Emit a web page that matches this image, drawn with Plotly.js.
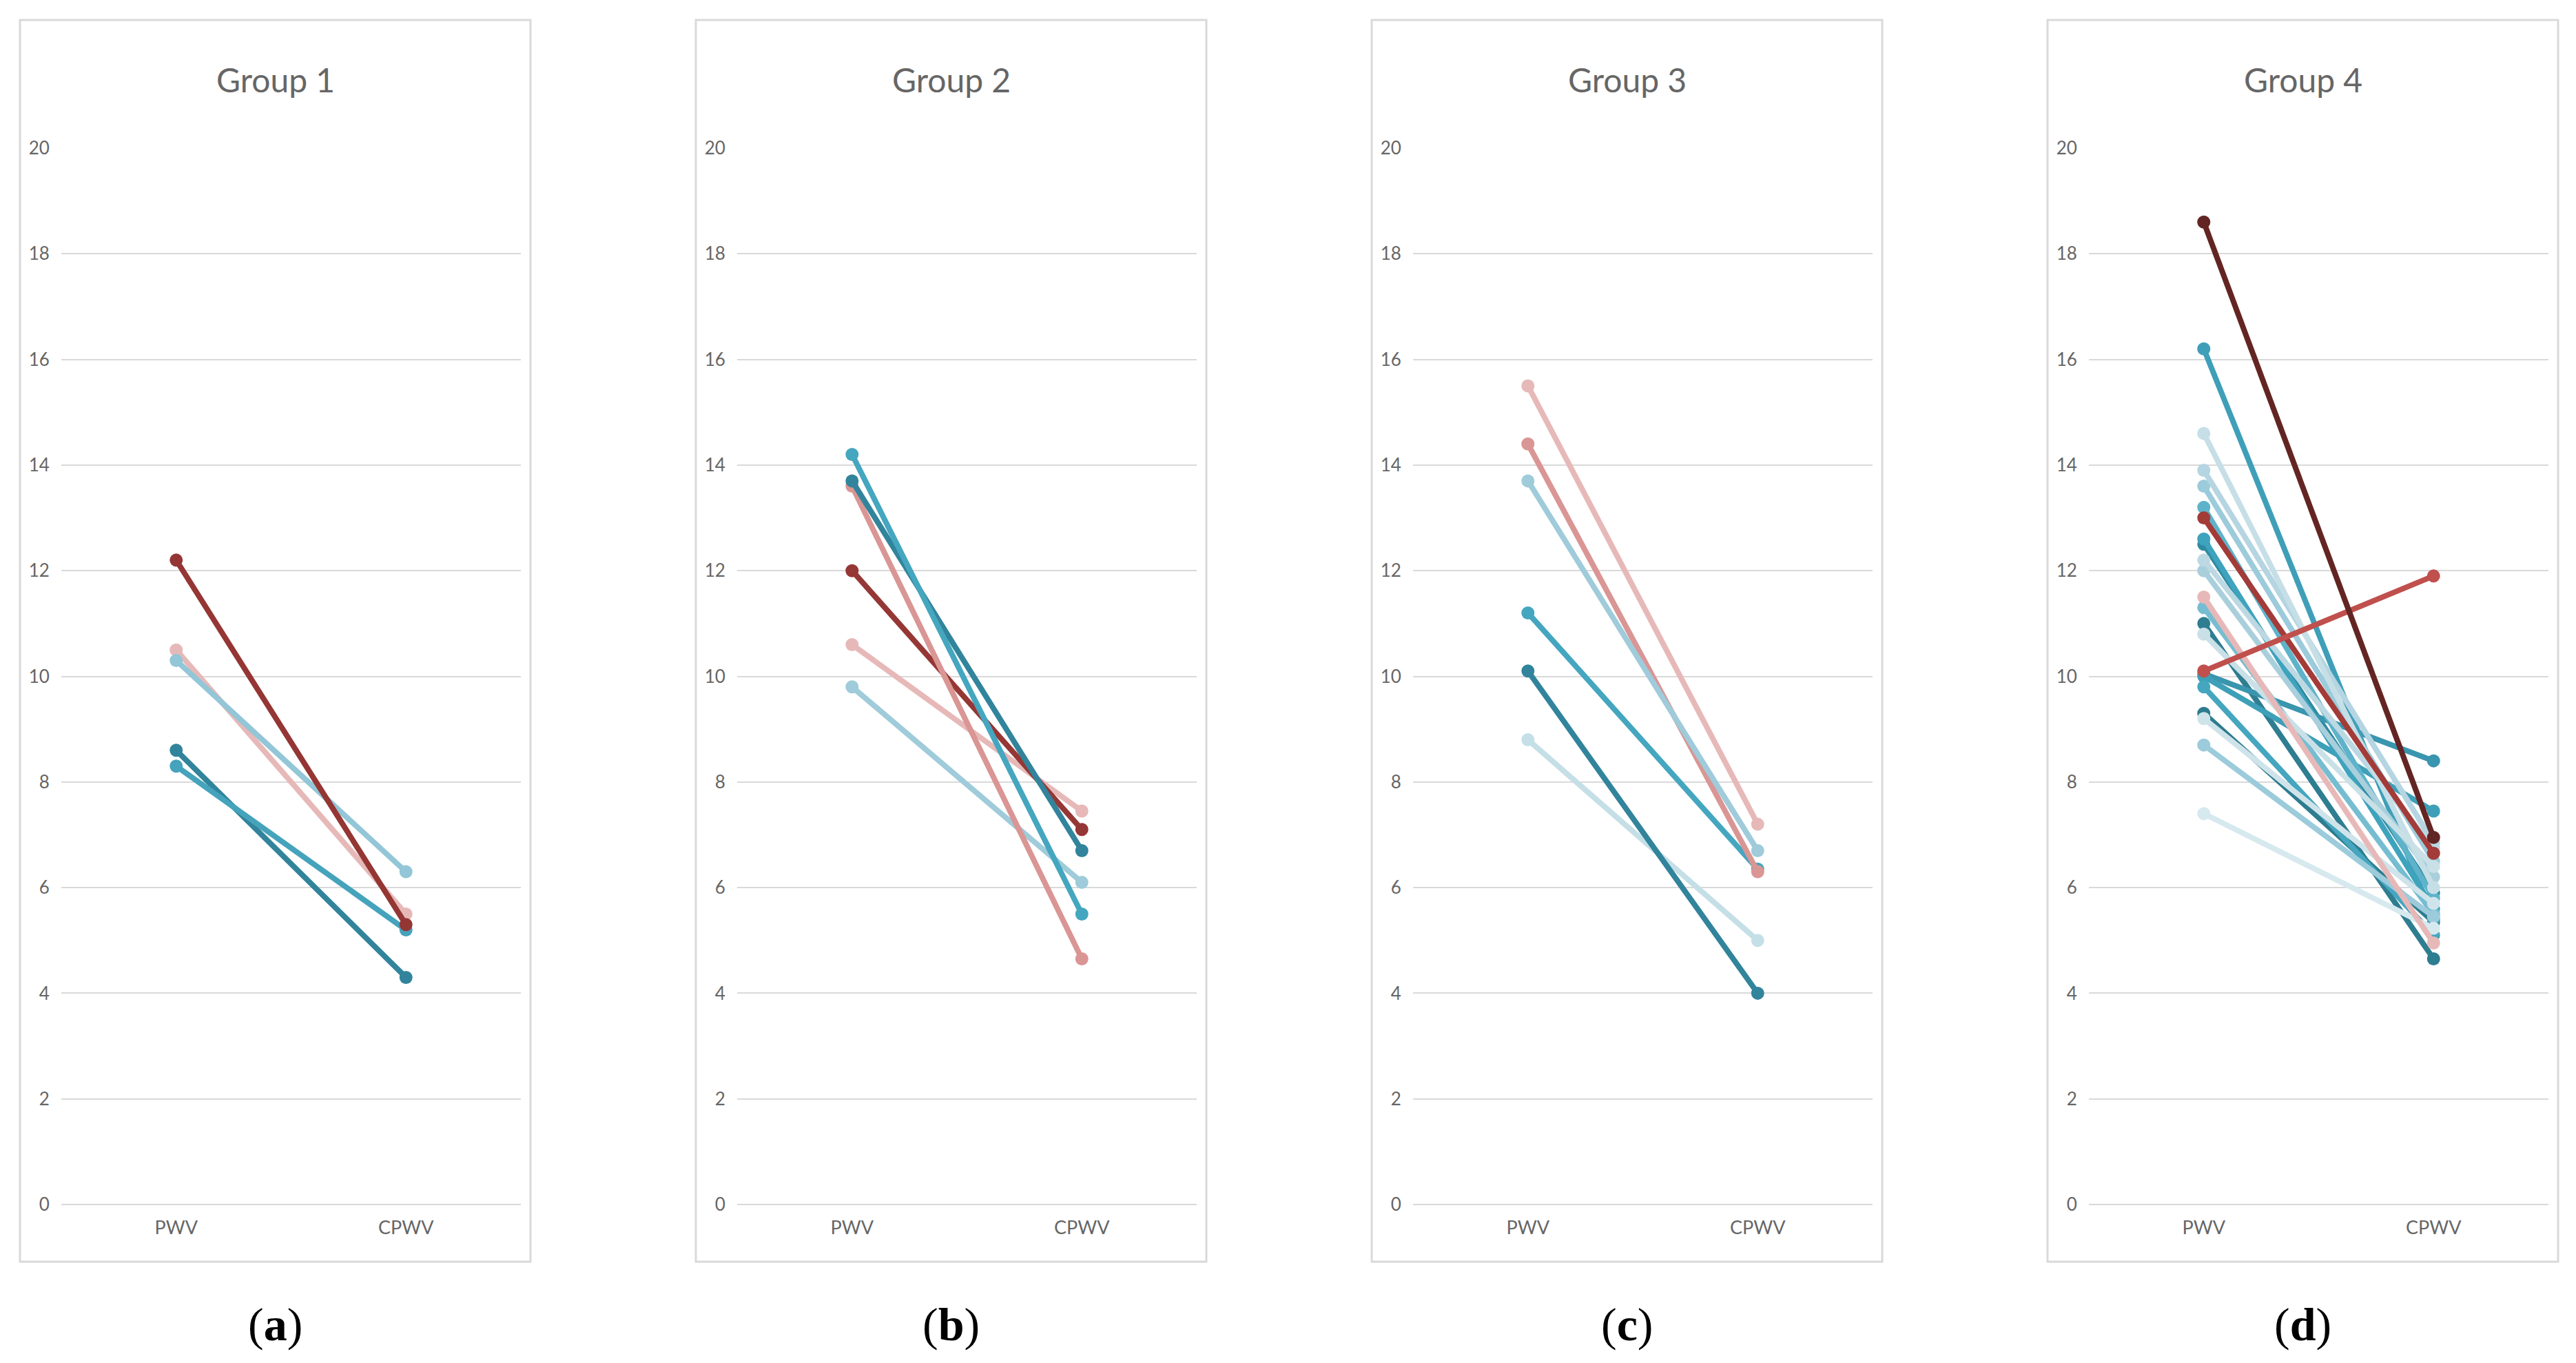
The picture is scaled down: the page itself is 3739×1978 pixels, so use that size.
<!DOCTYPE html>
<html>
<head>
<meta charset="utf-8">
<script src="https://cdn.plot.ly/plotly-3.0.1.min.js"></script>
<style>
html,body{margin:0;padding:0;background:#ffffff;}
#chart{width:3739px;height:1978px;}
</style>
</head>
<body>
<div id="chart"></div>
<script>
// ---------- data ----------
const categories = ['PWV', 'CPWV'];
const groupTitles = ['Group 1', 'Group 2', 'Group 3', 'Group 4'];
const panelLabels = ['a', 'b', 'c', 'd'];
const yTickValues = [0, 2, 4, 6, 8, 10, 12, 14, 16, 18, 20];

const group1Pwv  = [8.6, 8.3, 10.5, 10.3, 12.2];
const group1Cpwv = [4.3, 5.2, 5.5, 6.3, 5.3];

const group2Pwv  = [9.8, 10.6, 12.0, 13.6, 13.7, 14.2];
const group2Cpwv = [6.1, 7.45, 7.1, 4.65, 6.7, 5.5];

const group3Pwv  = [8.8, 10.1, 11.2, 14.4, 13.7, 15.5];
const group3Cpwv = [5.0, 4.0, 6.35, 6.3, 6.7, 7.2];

const group4Pwv  = [9.3, 11.0, 12.5, 10.05, 10.0, 16.2, 12.6, 9.8, 13.2, 11.3, 8.7, 13.6,
                    12.0, 13.9, 12.2, 14.6, 10.8, 9.2, 7.4, 11.5, 13.0, 10.1, 18.6];
const group4Cpwv = [5.35, 4.65, 5.9, 8.4, 7.45, 5.4, 5.6, 5.1, 5.8, 5.5, 5.45, 6.5,
                    6.2, 6.85, 6.75, 6.0, 6.4, 5.7, 5.23, 4.95, 6.65, 11.9, 6.95];

// ---------- styles ----------
const group1Colors = ['#31849b', '#45a3bc', '#e6b9b8', '#93c6d7', '#943634'];
const group2Colors = ['#9fcbda', '#e6b9b8', '#953735', '#d99694', '#31849b', '#45a6bf'];
const group3Colors = ['#c5dfe7', '#31849b', '#45a6bf', '#d99694', '#9fcbda', '#e6b9b8'];
const group4Colors = ['#2d7c8f', '#2e7d90', '#2f8aa1', '#3a95ae', '#3e9fb8', '#3f9fb8', '#3ea3bd',
                      '#44a6bf', '#5eb3ca', '#76bdd1', '#9ccbdb', '#9ccbdb', '#a9cfdc', '#b4d5e1',
                      '#bcd9e3', '#c6dfe7', '#c9e0e7', '#cfe4ea', '#d6e9ef', '#e6b9b8', '#a33b39',
                      '#c0504d', '#632523'];

const groups = [
  {pwv: group1Pwv, cpwv: group1Cpwv, colors: group1Colors},
  {pwv: group2Pwv, cpwv: group2Cpwv, colors: group2Colors},
  {pwv: group3Pwv, cpwv: group3Cpwv, colors: group3Colors},
  {pwv: group4Pwv, cpwv: group4Cpwv, colors: group4Colors}
];
const lineWidth = 8;
const markerSize = 19;

// ---------- geometry (pixels of the 3739x1978 canvas) ----------
const W = 3739, H = 1978;
const boxLeft0 = 29, boxStep = 981, boxWidth = 741;
const boxTop = 29, boxBottom = 1831;
const plotTop = 215, plotBottom = 1748;
const plotInsetL = 60, plotInsetR = 727;

const traces = [];
const layout = {
  width: W, height: H,
  margin: {l: 0, r: 0, t: 0, b: 0, pad: 0},
  paper_bgcolor: '#ffffff',
  plot_bgcolor: '#ffffff',
  showlegend: false,
  font: {family: 'Lato, "Noto Sans", sans-serif', color: '#595959'},
  shapes: [],
  annotations: []
};

groups.forEach((g, gi) => {
  const suffix = gi === 0 ? '' : String(gi + 1);
  const xa = 'x' + suffix, ya = 'y' + suffix;
  const boxL = boxLeft0 + gi * boxStep;
  const x0 = (boxL + plotInsetL) / W;
  const x1 = (boxL + plotInsetR) / W;

  g.pwv.forEach((v, i) => {
    traces.push({
      type: 'scatter',
      mode: 'lines+markers',
      x: categories,
      y: [v, g.cpwv[i]],
      xaxis: xa, yaxis: ya,
      line: {color: g.colors[i], width: lineWidth},
      marker: {color: g.colors[i], size: markerSize},
      hoverinfo: 'skip',
      cliponaxis: false
    });
  });

  layout['xaxis' + suffix] = {
    domain: [x0, x1],
    anchor: ya,
    type: 'category',
    range: [-0.5, 1.5],
    showgrid: false,
    zeroline: false,
    showline: false,
    ticks: 'outside',
    ticklen: 10,
    tickcolor: 'rgba(0,0,0,0)',
    tickfont: {family: 'Lato, sans-serif', size: 27, color: '#666666'},
    fixedrange: true
  };
  layout['yaxis' + suffix] = {
    domain: [1 - plotBottom / H, 1 - plotTop / H],
    anchor: xa,
    range: [0, 20],
    tickmode: 'array',
    tickvals: yTickValues,
    ticktext: yTickValues.map(String),
    showgrid: true,
    gridcolor: '#d9d9d9',
    gridwidth: 2,
    zeroline: true,
    zerolinecolor: '#d9d9d9',
    zerolinewidth: 2,
    showline: false,
    ticks: 'outside',
    ticklen: 11,
    tickcolor: 'rgba(0,0,0,0)',
    tickfont: {family: 'Lato, sans-serif', size: 26, color: '#666666'},
    fixedrange: true
  };

  // panel frame
  layout.shapes.push({
    type: 'rect', xref: 'paper', yref: 'paper',
    x0: boxL / W, x1: (boxL + boxWidth) / W,
    y0: 1 - boxBottom / H, y1: 1 - boxTop / H,
    line: {color: '#d9d9d9', width: 3},
    fillcolor: 'rgba(0,0,0,0)',
    layer: 'below'
  });

  // panel title
  layout.annotations.push({
    xref: 'paper', yref: 'paper',
    x: (boxL + boxWidth / 2) / W, y: 1 - 116 / H,
    xanchor: 'center', yanchor: 'middle',
    text: groupTitles[gi],
    showarrow: false,
    font: {family: 'Lato, sans-serif', size: 48, color: '#666666'}
  });

  // sub-figure label
  layout.annotations.push({
    xref: 'paper', yref: 'paper',
    x: (boxL + boxWidth / 2) / W, y: 1 - 1922 / H,
    xanchor: 'center', yanchor: 'middle',
    text: '(<b>' + panelLabels[gi] + '</b>)',
    showarrow: false,
    font: {family: '"Liberation Serif", "DejaVu Serif", serif', size: 68, color: '#000000'}
  });
});

Plotly.newPlot('chart', traces, layout, {staticPlot: true, displayModeBar: false});
</script>
</body>
</html>
